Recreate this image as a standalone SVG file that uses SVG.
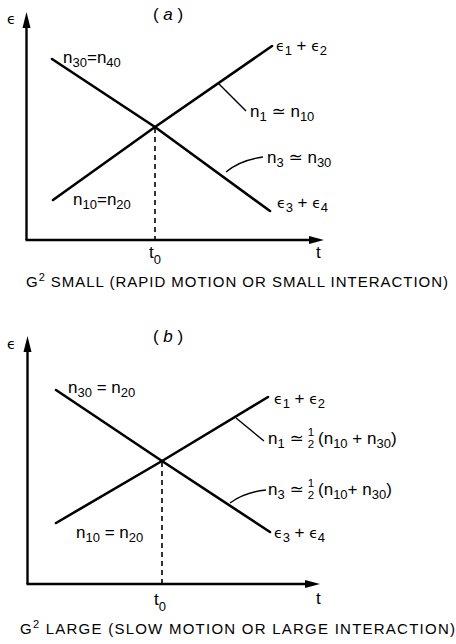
<svg xmlns="http://www.w3.org/2000/svg" width="456" height="644" viewBox="0 0 456 644">
<style>
  .ax{stroke:#000;stroke-width:2.4;fill:none}
  .ln{stroke:#000;stroke-width:2.6;fill:none;stroke-linecap:round}
  .ld{stroke:#000;stroke-width:1.4;fill:none}
  .dash{stroke:#000;stroke-width:1.6;stroke-dasharray:5 4;fill:none}
  .ah{fill:#000}
  text{font-family:"Liberation Sans","DejaVu Sans",sans-serif;fill:#000}
  .lb{font-size:17px}
  .sub{font-size:13px}
  .cap{font-size:15px}
  .csup{font-size:11px}
  .fr{font-size:11.5px}
  .eps{font-family:"DejaVu Sans",sans-serif;font-size:14px}
</style>
<rect width="456" height="644" fill="#fff"/>

<!-- Panel (a) -->
<g id="panel-a-axes">
  <line class="ax" x1="26.5" y1="240" x2="26.5" y2="26"/>
  <polygon class="ah" points="26.5,12 22.5,28 30.5,28"/>
  <line class="ax" x1="25.5" y1="240" x2="311" y2="240"/>
  <polygon class="ah" points="324,240 309,236 309,244"/>
  <text class="eps" x="7" y="24">ϵ</text>
  <text class="lb" x="168" y="20" text-anchor="middle">( <tspan font-style="italic">a</tspan> )</text>
  <text class="lb" x="149" y="258">t<tspan class="sub" dy="6">0</tspan></text>
  <text class="lb" x="316" y="258">t</text>
</g>
<g id="a-connectors">
  <polyline class="ln" points="52,59 155,127 270,211"/>
  <polyline class="ln" points="53,200 155,127 272,46"/>
  <line class="dash" x1="155" y1="128" x2="155" y2="240"/>
  <line class="ld" x1="218" y1="83" x2="246" y2="111"/>
  <path class="ld" d="M226,172 Q240,160 263,157"/>
</g>
<g id="a-labels">
  <text class="lb" x="63" y="63">n<tspan class="sub" dy="4">30</tspan><tspan dy="-4">=</tspan>n<tspan class="sub" dy="4">40</tspan></text>
  <text class="lb" x="73" y="205">n<tspan class="sub" dy="4">10</tspan><tspan dy="-4">=</tspan>n<tspan class="sub" dy="4">20</tspan></text>
  <text class="lb" x="276" y="51"><tspan class="eps">ϵ</tspan><tspan class="sub" dy="4">1</tspan><tspan dy="-4"> + </tspan><tspan class="eps">ϵ</tspan><tspan class="sub" dy="4">2</tspan></text>
  <text class="lb" x="277" y="208"><tspan class="eps">ϵ</tspan><tspan class="sub" dy="4">3</tspan><tspan dy="-4"> + </tspan><tspan class="eps">ϵ</tspan><tspan class="sub" dy="4">4</tspan></text>
  <text class="lb" x="250" y="117">n<tspan class="sub" dy="4">1</tspan><tspan dy="-4"> ≃ </tspan>n<tspan class="sub" dy="4">10</tspan></text>
  <text class="lb" x="267" y="163">n<tspan class="sub" dy="4">3</tspan><tspan dy="-4"> ≃ </tspan>n<tspan class="sub" dy="4">30</tspan></text>
  <text class="cap" x="26" y="287" textLength="422" lengthAdjust="spacing">G<tspan class="csup" dy="-6">2</tspan><tspan dy="6"> SMALL (RAPID MOTION OR SMALL INTERACTION)</tspan></text>
</g>

<!-- Panel (b) -->
<g id="panel-b-axes">
  <line class="ax" x1="27.5" y1="584" x2="27.5" y2="350"/>
  <polygon class="ah" points="27.5,336 23.5,352 31.5,352"/>
  <line class="ax" x1="26.5" y1="584" x2="307" y2="584"/>
  <polygon class="ah" points="320,584 305,580 305,588"/>
  <text class="eps" x="7" y="349">ϵ</text>
  <text class="lb" x="168" y="342" text-anchor="middle">( <tspan font-style="italic">b</tspan> )</text>
  <text class="lb" x="154" y="605">t<tspan class="sub" dy="6">0</tspan></text>
  <text class="lb" x="316" y="604">t</text>
</g>
<g id="b-connectors">
  <polyline class="ln" points="56,390 162,461 270,532"/>
  <polyline class="ln" points="56,523 162,461 268,397"/>
  <line class="dash" x1="162" y1="462" x2="162" y2="584"/>
  <line class="ld" x1="236" y1="418" x2="264" y2="441"/>
  <path class="ld" d="M230,503 Q245,492 266,490"/>
</g>
<g id="b-labels">
  <text class="lb" x="68" y="393">n<tspan class="sub" dy="4">30</tspan><tspan dy="-4"> = </tspan>n<tspan class="sub" dy="4">20</tspan></text>
  <text class="lb" x="76" y="538">n<tspan class="sub" dy="4">10</tspan><tspan dy="-4"> = </tspan>n<tspan class="sub" dy="4">20</tspan></text>
  <text class="lb" x="274" y="404"><tspan class="eps">ϵ</tspan><tspan class="sub" dy="4">1</tspan><tspan dy="-4"> + </tspan><tspan class="eps">ϵ</tspan><tspan class="sub" dy="4">2</tspan></text>
  <text class="lb" x="274" y="538"><tspan class="eps">ϵ</tspan><tspan class="sub" dy="4">3</tspan><tspan dy="-4"> + </tspan><tspan class="eps">ϵ</tspan><tspan class="sub" dy="4">4</tspan></text>
  <g id="b-n1">
    <text class="lb" x="268" y="444">n<tspan class="sub" dy="4">1</tspan><tspan dy="-4"> ≃</tspan></text>
    <text class="fr" x="311" y="436" text-anchor="middle">1</text>
    <text class="fr" x="311" y="448" text-anchor="middle">2</text>
    <text class="lb" x="318" y="444">(n<tspan class="sub" dy="4">10</tspan><tspan dy="-4"> + </tspan>n<tspan class="sub" dy="4">30</tspan><tspan dy="-4">)</tspan></text>
  </g>
  <g id="b-n3">
    <text class="lb" x="268" y="495">n<tspan class="sub" dy="4">3</tspan><tspan dy="-4"> ≃</tspan></text>
    <text class="fr" x="311" y="487" text-anchor="middle">1</text>
    <text class="fr" x="311" y="499" text-anchor="middle">2</text>
    <text class="lb" x="318" y="495">(n<tspan class="sub" dy="4">10</tspan><tspan dy="-4">+ </tspan>n<tspan class="sub" dy="4">30</tspan><tspan dy="-4">)</tspan></text>
  </g>
  <text class="cap" x="20" y="634" textLength="435" lengthAdjust="spacing">G<tspan class="csup" dy="-6">2</tspan><tspan dy="6"> LARGE (SLOW MOTION OR LARGE INTERACTION)</tspan></text>
</g>
</svg>
